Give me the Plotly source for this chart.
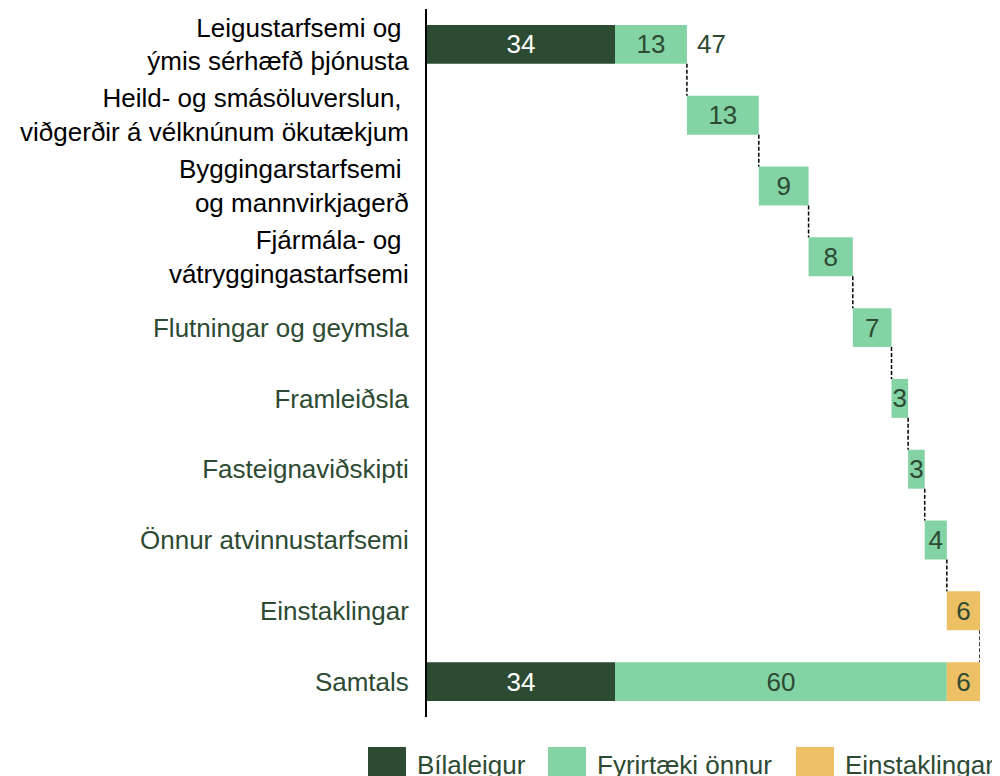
import plotly.graph_objects as go

NBSP = "\u00a0"
categories = [
    "Leigustarfsemi og" + NBSP + "<br>ýmis sérhæfð þjónusta",
    "Heild- og smásöluverslun," + NBSP + "<br>viðgerðir á vélknúnum ökutækjum",
    "Byggingarstarfsemi" + NBSP + "<br>og mannvirkjagerð",
    "Fjármála- og" + NBSP + "<br>vátryggingastarfsemi",
    "Flutningar og geymsla",
    "Framleiðsla",
    "Fasteignaviðskipti",
    "Önnur atvinnustarfsemi",
    "Einstaklingar",
    "Samtals",
]
label_black = [True, True, True, True, False, False, False, False, False, False]

series_names = ["Bílaleigur", "Fyrirtæki önnur", "Einstaklingar"]
# values per category (None = no bar)
bilaleigur = [34, None, None, None, None, None, None, None, None, 34]
fyrirtaeki = [13, 13, 9, 8, 7, 3, 3, 4, None, 60]
einstaklingar = [None, None, None, None, None, None, None, None, 6, 6]
first_row_total = 47

colors = ["#2D4A33", "#83D3A4", "#EEC066"]
text_colors = ["#FFFFFF", "#2D4A33", "#2D4A33"]
DARK = "#2D4A33"
FONT = "Arial, 'Liberation Sans', sans-serif"
FS = 26
BAR_W = 0.55

# waterfall bases
n = len(categories)
all_series = (bilaleigur, fyrirtaeki, einstaklingar)
row_sums = [sum(s[i] for s in all_series if s[i] is not None) for i in range(n)]
starts = [0.0] * n
ends = [0.0] * n
cum = 0.0
for i in range(n - 1):
    starts[i] = cum
    cum += row_sums[i]
    ends[i] = cum
starts[n - 1] = 0
ends[n - 1] = row_sums[n - 1]

def bases_for(series_idx):
    out = []
    for i in range(n):
        b = starts[i]
        for k in range(series_idx):
            if all_series[k][i] is not None:
                b += all_series[k][i]
        out.append(b)
    return out

fig = go.Figure()
for k, (name, vals) in enumerate(zip(series_names, all_series)):
    idx = [i for i in range(n) if vals[i] is not None]
    bases = bases_for(k)
    fig.add_trace(go.Bar(
        orientation="h",
        y=[categories[i] for i in idx],
        x=[vals[i] for i in idx],
        base=[bases[i] for i in idx],
        name=name,
        marker=dict(color=colors[k], line=dict(width=0)),
        width=BAR_W,
        text=[str(vals[i]) for i in idx],
        textposition="inside",
        insidetextanchor="middle",
        textangle=0,
        constraintext="none",
        insidetextfont=dict(color=text_colors[k], size=FS, family=FONT),
        showlegend=False,
        hoverinfo="skip",
    ))

# total label for first row
fig.add_annotation(x=first_row_total, y=0, xref="x", yref="y", text=str(first_row_total),
                   showarrow=False, xanchor="left", xshift=8,
                   font=dict(color=DARK, size=FS, family=FONT))

# dashed connectors
shapes = []
for i in range(n - 1):
    shapes.append(dict(type="line", xref="x", yref="y",
                       x0=ends[i], x1=ends[i], y0=i + BAR_W / 2, y1=i + 1 - BAR_W / 2,
                       line=dict(color="black", width=1.5, dash="4px,2px")))

# layout in page pixels (page has an 8px body offset)
OFF = 8
top, H = 9, 708
left, W = 427, 553
def px_x(p): return (p - left) / W
def px_y(p): return (top + H - p) / H
leg_sq_x = [368, 548, 796]
for k in range(3):
    shapes.append(dict(type="rect", xref="paper", yref="paper",
                       x0=px_x(leg_sq_x[k]), x1=px_x(leg_sq_x[k] + 38),
                       y0=px_y(747), y1=px_y(790),
                       fillcolor=colors[k], line=dict(width=0)))
    fig.add_annotation(x=px_x(leg_sq_x[k] + 47), y=px_y(765), xref="paper", yref="paper",
                       text=series_names[k], showarrow=False, xanchor="left", yanchor="middle",
                       font=dict(color=DARK, size=FS, family=FONT))

ticktext = []
for c, blk in zip(categories, label_black):
    if blk:
        ticktext.append("<br>".join(f"<span style='color:#000000'>{ln}</span>" for ln in c.split("<br>")))
    else:
        ticktext.append(c)

fig.update_layout(
    width=1000, height=776,
    margin=dict(l=left - OFF, r=1000 - (left - OFF) - W, t=top - OFF, b=776 - (top - OFF) - H,
                autoexpand=False),
    paper_bgcolor="white", plot_bgcolor="white",
    barmode="overlay",
    shapes=shapes,
    font=dict(family=FONT, size=FS, color=DARK),
    xaxis=dict(range=[0, 100], visible=False, fixedrange=True, automargin=False),
    yaxis=dict(type="category", categoryorder="array", categoryarray=categories,
               tickvals=categories, ticktext=ticktext,
               autorange=False, range=[n - 0.5, -0.5], automargin=False,
               showline=True, linecolor="black", linewidth=2,
               showgrid=False, ticks="", ticklabelstandoff=11,
               tickfont=dict(color=DARK, size=FS, family=FONT)),
)

fig.write_html("out.html")
